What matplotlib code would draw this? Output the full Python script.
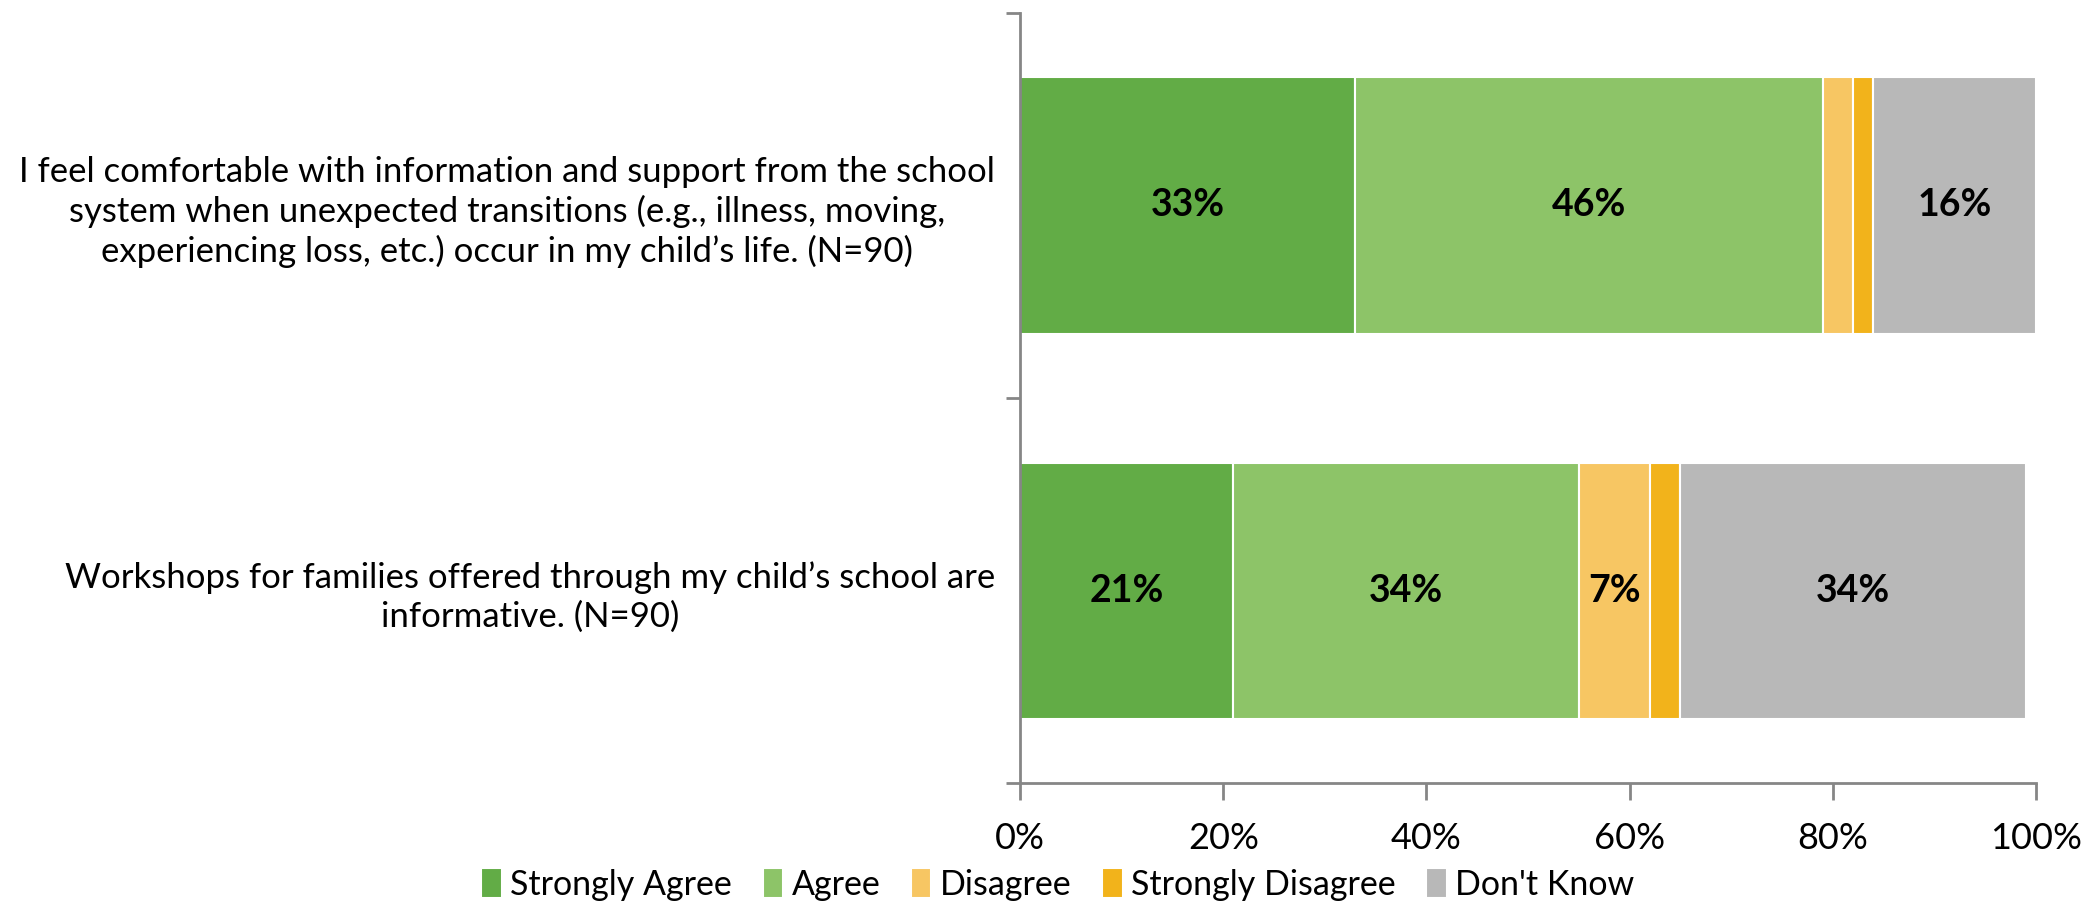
import matplotlib
matplotlib.use('Agg')
import matplotlib.pyplot as plt
import numpy as np

plt.rcParams['font.family'] = ['Lato', 'DejaVu Sans']

questions = [
    "I feel comfortable with information and support from the school\n"
    "system when unexpected transitions (e.g., illness, moving,\n"
    "experiencing loss, etc.) occur in my child\u2019s life. (N=90)",
    "Workshops for families offered through my child\u2019s school are\n"
    "informative. (N=90)",
]
responses = ['Strongly Agree', 'Agree', 'Disagree', 'Strongly Disagree', "Don't Know"]
strongly_agree = [33, 21]
agree = [46, 34]
disagree = [3, 7]
strongly_disagree = [2, 3]
dont_know = [16, 34]
colors = ['#62AC46', '#8DC468', '#F7C663', '#F2B31B', '#B8B8B8']

series = [strongly_agree, agree, disagree, strongly_disagree, dont_know]

fig = plt.figure(figsize=(20.99, 9.15), dpi=100)
ax = fig.add_axes([0.486, 0.144, 0.484, 0.842])

y = np.arange(len(questions))
left = np.zeros(len(questions))
for vals, name, col in zip(series, responses, colors):
    vals = np.array(vals, dtype=float)
    rects = ax.barh(y, vals, left=left, height=0.665, color=col,
                    edgecolor='white', linewidth=1.5, label=name)
    for r, v in zip(rects, vals):
        if v >= 5:
            ax.text(r.get_x() + r.get_width() / 2, r.get_y() + r.get_height() / 2,
                    '{:.0f}%'.format(v), ha='center', va='center',
                    fontsize=27, fontweight='bold', color='black')
    left += vals

ax.set_xlim(0, 100)
ax.set_ylim(1.5, -0.5)
ax.set_xticks(np.arange(0, 101, 20))
ax.set_xticklabels(['{}%'.format(t) for t in range(0, 101, 20)], fontsize=26)
ax.set_yticks(y)
ax.set_yticklabels(questions, fontsize=25, multialignment='center', linespacing=1.25)
ax.set_yticks([-0.5, 0.5, 1.5], minor=True)
ax.tick_params(axis='y', which='major', length=0, pad=18)
ax.tick_params(axis='y', which='minor', length=10, width=2, color='#868686')
ax.tick_params(axis='x', length=12, width=2, color='#868686', pad=16)

for s in ['top', 'right']:
    ax.spines[s].set_visible(False)
for s in ['left', 'bottom']:
    ax.spines[s].set_color('#868686')
    ax.spines[s].set_linewidth(2)

fig.legend(loc='lower center', bbox_to_anchor=(0.504, -0.018), ncol=5,
           frameon=False, fontsize=24.5, handlelength=0.6, handleheight=1.0,
           handletextpad=0.25, columnspacing=0.9)

fig.savefig('out.png', dpi=100)
